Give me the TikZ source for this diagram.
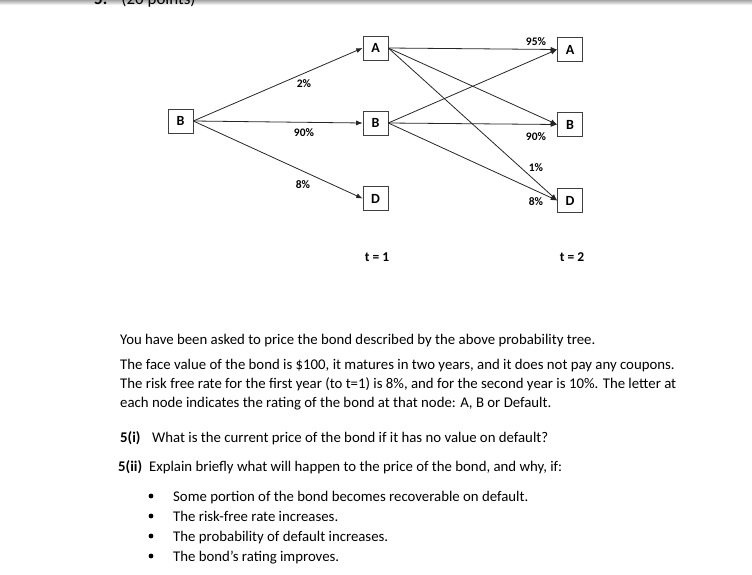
\documentclass[tikz,border=0pt]{standalone}
\usepackage{fontspec}
\setmainfont{Carlito}
\usetikzlibrary{arrows.meta}
\begin{document}
\begin{tikzpicture}[x=1pt,y=-1pt,
  state/.style={draw=black!75,line width=0.6pt,minimum width=25pt,minimum height=24pt,inner sep=0pt,font=\fontsize{14}{15}\selectfont\bfseries,fill=white},
  edge/.style={-{Latex[length=6.5pt,width=5pt]},line width=0.8pt,black!85},
  plab/.style={font=\fontsize{11.5}{13}\selectfont\bfseries,inner sep=0pt},
  tlab/.style={font=\fontsize{13.5}{15}\selectfont\bfseries,inner sep=0pt},
  body/.style={anchor=base west,inner sep=0pt,font=\fontsize{14.8}{18}\selectfont}]
\useasboundingbox (0,0) rectangle (752,575);
\shade[top color=black!35,bottom color=white] (0,0) rectangle (752,5);
\node[body,font=\fontsize{17}{19}\selectfont] (hdr) at (94,5) {\textbf{5.}\hspace{14pt}(20 points)};
% nodes
\node[state] (b0) at (180.5,121) {B};
\node[state] (a1) at (375.5,48) {A};
\node[state] (b1) at (375.5,123) {B};
\node[state] (d1) at (375.5,198.5) {D};
\node[state] (a2) at (570,49.5) {A};
\node[state] (b2) at (570,124.5) {B};
\node[state] (d2) at (570,200.5) {D};
% edges
\draw[edge] (b0.east) -- (a1.west);
\draw[edge] (b0.east) -- (b1.west);
\draw[edge] (b0.east) -- (d1.west);
\draw[edge] (a1.east) -- (a2.west);
\draw[edge] (a1.east) -- (b2.west);
\draw[edge] (a1.east) -- (d2.west);
\draw[edge] (b1.east) -- (a2.west);
\draw[edge] (b1.east) -- (b2.west);
\draw[edge] (b1.east) -- (d2.west);
% labels
\node[plab] (l1) at (304,84) {2\%};
\node[plab] (l2) at (304,133) {90\%};
\node[plab] (l3) at (303,185) {8\%};
\node[plab] (l4) at (536,42) {95\%};
\node[plab] (l5) at (536,137) {90\%};
\node[plab] (l6) at (536,168) {1\%};
\node[plab] (l7) at (536,202) {8\%};
\node[tlab] (t1) at (377,257) {t = 1};
\node[tlab] (t2) at (572,257) {t = 2};
% text
\node[body] (p1) at (120,344) {You have been asked to price the bond described by the above probability tree.};
\node[body] (p2) at (120,369) {The face value of the bond is \$100, it matures in two years, and it does not pay any coupons.};
\node[body] (p3) at (120,388) {The risk free rate for the first year (to t=1) is 8\%, and for the second year is 10\%. The letter at};
\node[body] (p4) at (120,407) {each node indicates the rating of the bond at that node: A, B or Default.};
\node[body] (q1) at (120,442) {\makebox[32pt][l]{\textbf{5(i)}}What is the current price of the bond if it has no value on default?};
\node[body] (q2) at (118,471) {\makebox[31pt][l]{\textbf{5(ii)}}Explain briefly what will happen to the price of the bond, and why, if:};
\foreach \yy/\tx [count=\i] in {501/Some portion of the bond becomes recoverable on default.,521/The risk-free rate increases.,541/The probability of default increases.,561/The bond’s rating improves.}{
  \fill (151,\yy-5) circle (2.4pt);
  \node[body] (bl\i) at (173,\yy) {\tx};
}
\end{tikzpicture}
\end{document}
